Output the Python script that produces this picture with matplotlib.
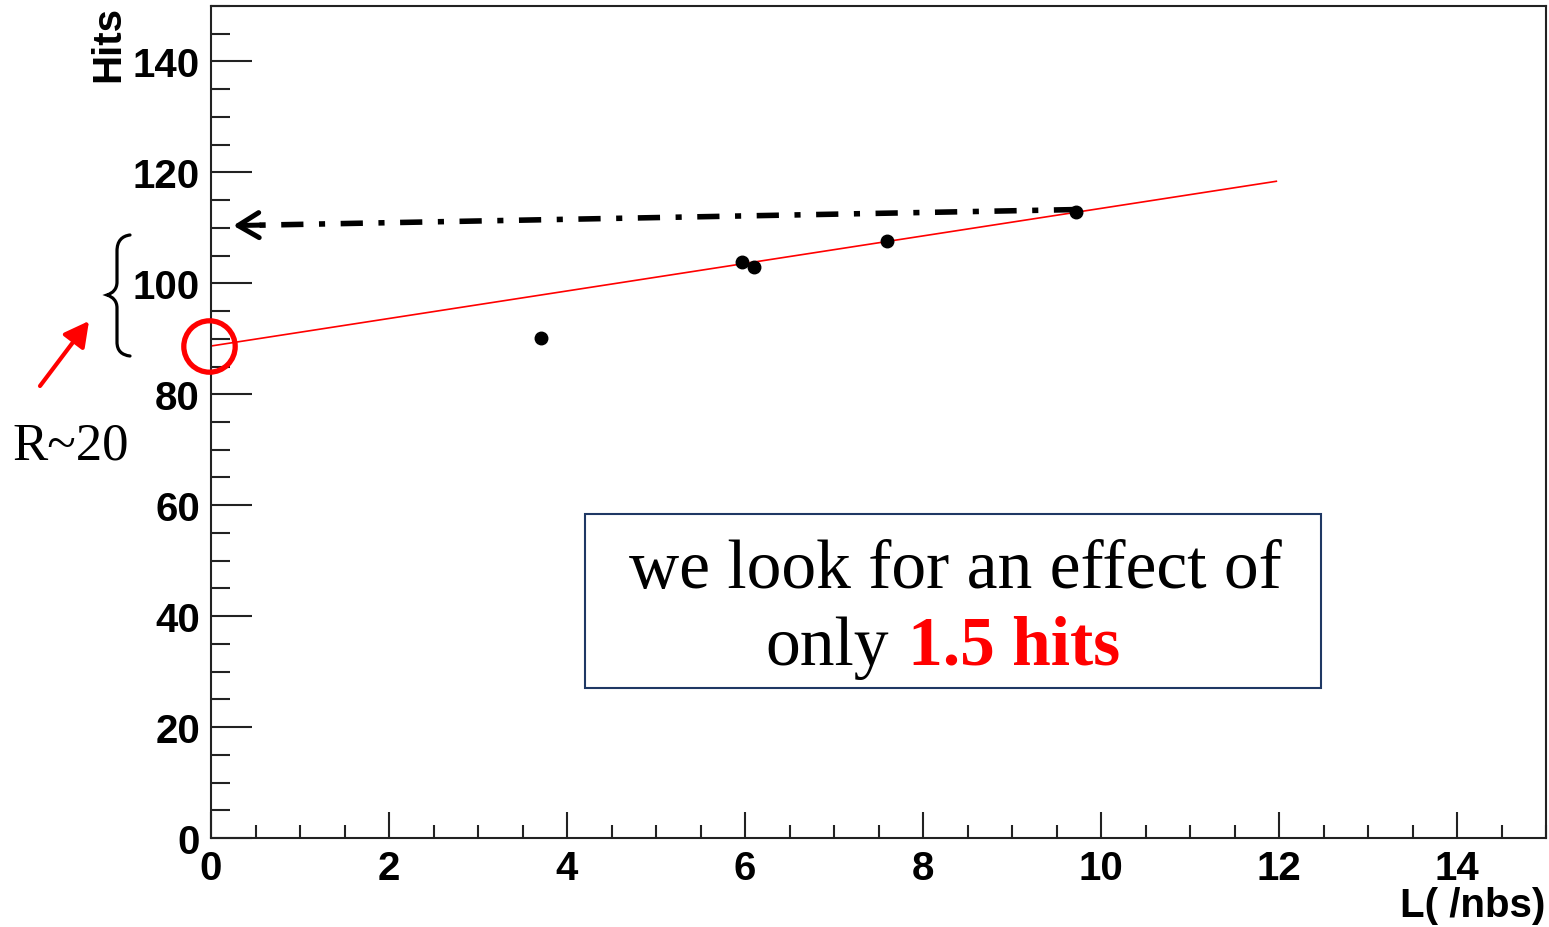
import matplotlib
matplotlib.use("Agg")
import matplotlib.pyplot as plt
from matplotlib.path import Path
from matplotlib.patches import PathPatch, Rectangle, FancyArrowPatch
from matplotlib.transforms import Affine2D
from matplotlib.text import Annotation
from matplotlib.ticker import MultipleLocator

# ---- data ----
lumi = [3.71, 5.97, 6.10, 7.59, 9.72]
hits = [90.2, 103.8, 102.9, 107.6, 112.8]
fit_x = [0.0, 11.97]
fit_y = [88.7, 118.4]
arrow_from = (9.72, 113.3)
arrow_to = (0.25, 110.4)
intercept = (0.0, 88.7)
x_label = "L( /nbs)"
y_label = "Hits"
box_line1 = "we look for an effect of"
box_line2a = "only"
box_line2b = "1.5 hits"
r_label = "R~20"

W, H = 1549, 928
fig = plt.figure(figsize=(W / 100, H / 100), dpi=100)
ax = fig.add_axes([211 / W, (H - 839) / H, (1546 - 211) / W, (839 - 7) / H])

# pixel transform (origin top-left)
px = Affine2D().scale(1 / W, -1 / H).translate(0, 1) + fig.transFigure

for s in ax.spines.values():
    s.set_linewidth(1.5)
    s.set_color("#222222")

ax.xaxis.set_major_locator(MultipleLocator(2))
ax.xaxis.set_minor_locator(MultipleLocator(0.5))
ax.yaxis.set_major_locator(MultipleLocator(20))
ax.yaxis.set_minor_locator(MultipleLocator(5))

tickfont = dict(family="Liberation Sans", weight="bold", size=29)
ax.tick_params(axis="x", which="major", direction="in", length=18.7, width=1.5, pad=8, color="#222222")
ax.tick_params(axis="x", which="minor", direction="in", length=9.4, width=1.5, color="#222222")
ax.tick_params(axis="y", which="major", direction="in", length=29.5, width=1.5, pad=8, color="#222222")
ax.tick_params(axis="y", which="minor", direction="in", length=13.7, width=1.5, color="#222222")
xt = list(range(0, 16, 2))
yt = list(range(0, 141, 20))
ax.set_xticks(xt)
ax.set_yticks(yt)
ax.set_xticklabels([str(v) for v in xt], **tickfont)
ax.set_yticklabels([str(v) for v in yt], **tickfont)
ax.set_xlim(0, 15)
ax.set_ylim(0, 150)

# fit line
ax.plot(fit_x, fit_y, color="red", lw=1.2, zorder=2)
# data points
ax.plot(lumi, hits, "o", color="black", ms=9, zorder=3)

# dash-dot arrow
ax.plot([arrow_from[0], arrow_to[0] + 0.2], [arrow_from[1], arrow_to[1] + 0.06],
        color="black", lw=4, solid_capstyle="butt", dash_capstyle="butt",
        linestyle=(0, (4.0, 2.8, 1.1, 2.8)), zorder=3)
ax.annotate("", xy=arrow_to, xytext=(arrow_to[0] + 0.3, arrow_to[1] + 0.1),
            arrowprops=dict(arrowstyle="->,head_length=0.75,head_width=0.45",
                            color="black", lw=3.6, mutation_scale=20,
                            shrinkA=0, shrinkB=0), zorder=3)

# red circle at intercept
ax.plot([intercept[0] - 0.02], [intercept[1]], "o", ms=37, mfc="none", mec="red",
        mew=3.8, clip_on=False, zorder=4)

# axis labels
fig.text(108 / W, 1 - 6 / H, y_label, rotation=90, ha="center", va="top",
         family="Liberation Sans", weight="bold", size=29)
fig.text(1545 / W, 1 - 906 / H, x_label, ha="right", va="center",
         family="Liberation Sans", weight="bold", size=29)

# brace
verts = [(130, 236), (122, 237), (117, 242), (117, 252),
         (117, 283),
         (117, 290), (113, 294), (107, 296),
         (113, 298), (117, 302), (117, 309),
         (117, 343),
         (117, 352), (122, 356), (130, 357)]
codes = [Path.MOVETO, Path.CURVE4, Path.CURVE4, Path.CURVE4,
         Path.LINETO,
         Path.CURVE4, Path.CURVE4, Path.CURVE4,
         Path.CURVE4, Path.CURVE4, Path.CURVE4,
         Path.LINETO,
         Path.CURVE4, Path.CURVE4, Path.CURVE4]
fig.add_artist(PathPatch(Path(verts, codes), transform=px, fill=False,
                         lw=2.3, edgecolor="black", capstyle="round"))

# red arrow
fig.add_artist(FancyArrowPatch(
    (40, 387), (89, 322), transform=px,
    arrowstyle="-|>,head_length=0.75,head_width=0.4", mutation_scale=20,
    color="red", lw=3, shrinkA=0, shrinkB=0))

# R~20
fig.text(12 / W, 1 - 460 / H, r_label, ha="left", va="baseline",
         family="Liberation Serif", size=38)

# text box
fig.add_artist(Rectangle((585, 515), 1321 - 585, 689 - 515, transform=px,
                         fill=True, facecolor="white", edgecolor="#1F3864",
                         lw=1.5, zorder=5))
fig.text(955 / W, 1 - 588 / H, box_line1, ha="center", va="baseline",
         family="Liberation Serif", size=50, zorder=6)
t2 = fig.text(765 / W, 1 - 665 / H, box_line2a, ha="left", va="baseline",
              family="Liberation Serif", size=50, zorder=6)
red = Annotation(box_line2b, xy=(1, 0), xycoords=t2, xytext=(14, 0),
                 textcoords="offset points", ha="left", va="bottom",
                 family="Liberation Serif", weight="bold", size=50, color="red")
red.set_zorder(6)
fig.add_artist(red)

fig.savefig("out.png", dpi=100)
